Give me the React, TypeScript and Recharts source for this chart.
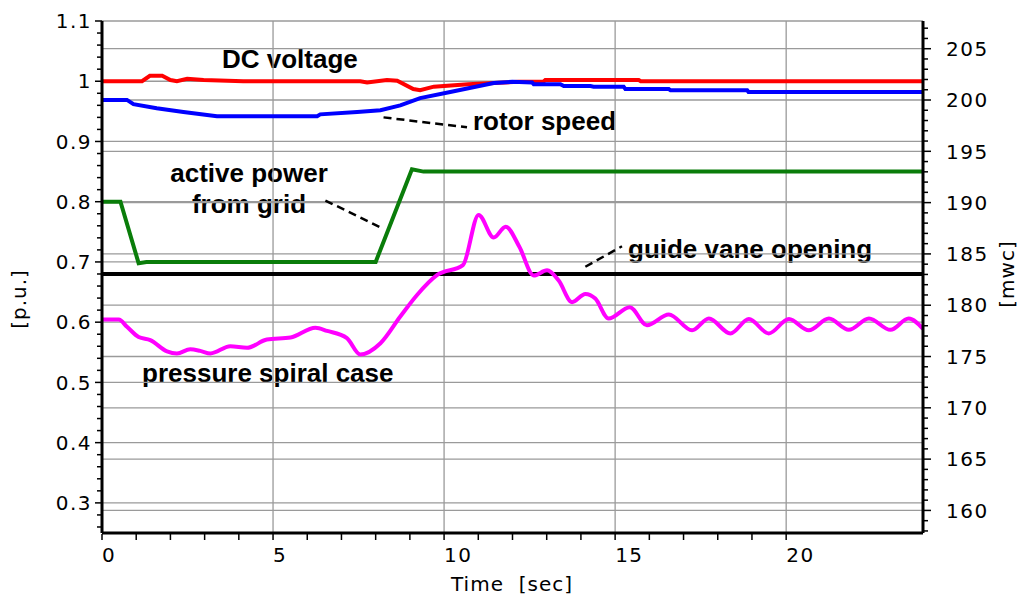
import React from 'react';
import { LineChart, Line, XAxis, YAxis, ReferenceLine } from 'recharts';

// ---- Data ----
const dcTime = [0, 1.17, 1.4, 1.76, 2.0, 2.19, 2.49, 2.97, 4.13, 7.55, 7.75, 8.33, 8.63, 9.1, 9.3, 9.7, 10.7, 12.2, 12.9, 12.96, 15.69, 15.75, 24];
const dcVoltage = [1.0, 1.0, 1.009, 1.009, 1.002, 1.0, 1.004, 1.002, 1.0, 1.0, 0.998, 1.002, 1.001, 0.987, 0.985, 0.991, 0.995, 0.999, 0.999, 1.002, 1.002, 1.0, 1.0];

const rotorTime = [0, 0.73, 0.92, 1.6, 2.38, 3.36, 6.29, 6.38, 7.46, 8.14, 8.72, 9.3, 10.18, 11.45, 12.0, 12.57, 12.62, 13.4, 13.5, 14.28, 14.37, 15.25, 15.3, 16.57, 16.62, 18.86, 18.9, 24];
const rotorSpeed = [0.969, 0.969, 0.962, 0.955, 0.949, 0.942, 0.942, 0.945, 0.949, 0.952, 0.96, 0.972, 0.982, 0.997, 0.999, 0.998, 0.995, 0.995, 0.992, 0.992, 0.991, 0.991, 0.987, 0.987, 0.985, 0.985, 0.982, 0.982];

const powerTime = [0, 0.54, 1.07, 1.3, 8.0, 9.06, 9.4, 24];
const activePower = [0.8, 0.8, 0.698, 0.7, 0.7, 0.854, 0.85, 0.85];

const vaneTime = [0, 24];
const guideVane = [0.68, 0.68];

const pressureTime = [0, 0.49, 0.73, 1.07, 1.41, 1.9, 2.19, 2.58, 2.87, 3.17, 3.75, 4.24, 4.82, 5.51, 6.24, 6.58, 7.16, 7.55, 8.14, 8.72, 9.21, 9.8, 10.55, 11.01, 11.45, 11.8, 12.2, 12.62, 13.01, 13.35, 13.74, 14.13, 14.42, 14.81, 15.43, 15.93, 16.57, 17.25, 17.74, 18.37, 18.91, 19.49, 20.08, 20.66, 21.25, 21.83, 22.42, 23.05, 23.58, 24.0];
const pressureSpiral = [178.6, 178.6, 177.9, 176.9, 176.6, 175.5, 175.3, 175.7, 175.55, 175.3, 176.0, 175.85, 176.65, 176.85, 177.8, 177.5, 176.8, 175.2, 176.3, 178.9, 181.0, 182.95, 183.9, 188.8, 186.6, 187.65, 185.7, 182.9, 183.4, 182.4, 180.3, 181.1, 180.65, 178.7, 179.8, 178.05, 179.1, 177.55, 178.7, 177.25, 178.65, 177.25, 178.65, 177.55, 178.7, 177.6, 178.7, 177.6, 178.7, 177.7];

// ---- Ticks ----
const xTicks = [0, 1, 2, 3, 4, 5, 6, 7, 8, 9, 10, 11, 12, 13, 14, 15, 16, 17, 18, 19, 20];
const xMajor = [0, 5, 10, 15, 20];
const xGrid = [5, 10, 15, 20];

const leftTicks = [0.26, 0.28, 0.3, 0.32, 0.34, 0.36, 0.38, 0.4, 0.42, 0.44, 0.46, 0.48, 0.5, 0.52, 0.54, 0.56, 0.58, 0.6, 0.62, 0.64, 0.66, 0.68, 0.7, 0.72, 0.74, 0.76, 0.78, 0.8, 0.82, 0.84, 0.86, 0.88, 0.9, 0.92, 0.94, 0.96, 0.98, 1, 1.02, 1.04, 1.06, 1.08, 1.1];
const leftMajor = [0.3, 0.4, 0.5, 0.6, 0.7, 0.8, 0.9, 1, 1.1];

const rightTicks = [158, 159, 160, 161, 162, 163, 164, 165, 166, 167, 168, 169, 170, 171, 172, 173, 174, 175, 176, 177, 178, 179, 180, 181, 182, 183, 184, 185, 186, 187, 188, 189, 190, 191, 192, 193, 194, 195, 196, 197, 198, 199, 200, 201, 202, 203, 204, 205, 206, 207];
const rightMajor = [160, 165, 170, 175, 180, 185, 190, 195, 200, 205];

const zip = (ts: number[], vs: number[]) => ts.map((t, i) => ({ t, v: vs[i] }));
const isIn = (arr: number[], v: number) => arr.some((m) => Math.abs(m - v) < 1e-6);

const TICK_FONT = '"DejaVu Sans", sans-serif';
const BOLD_FONT = '"Liberation Sans", Arial, sans-serif';

const LeftTick = (props: any) => {
  const { x, y, payload } = props;
  const major = isIn(leftMajor, payload.value);
  return (
    <g>
      <line x1={x - (major ? 7 : 5)} x2={x} y1={y} y2={y} stroke="#000" strokeWidth={1.5} />
      {major && (
        <text x={x - 10} y={y} dy="0.36em" textAnchor="end" fontFamily={TICK_FONT} fontSize={20} letterSpacing={1.5} fill="#000">
          {String(payload.value)}
        </text>
      )}
    </g>
  );
};

const RightTick = (props: any) => {
  const { x, y, payload } = props;
  const major = isIn(rightMajor, payload.value);
  return (
    <g>
      <line x1={x} x2={x + (major ? 8 : 5)} y1={y} y2={y} stroke="#000" strokeWidth={1.5} />
      {major && (
        <text x={x + 23} y={y} dy="0.36em" textAnchor="start" fontFamily={TICK_FONT} fontSize={20} letterSpacing={1.5} fill="#000">
          {String(payload.value)}
        </text>
      )}
    </g>
  );
};

const BottomTick = (props: any) => {
  const { x, y, payload } = props;
  const major = isIn(xMajor, payload.value);
  return (
    <g>
      <line x1={x} x2={x} y1={y + 1} y2={y + 7} stroke="#000" strokeWidth={1.5} />
      {major && (
        <text x={x} y={y + 29} textAnchor="start" fontFamily={TICK_FONT} fontSize={20} letterSpacing={1.5} fill="#000">
          {String(payload.value)}
        </text>
      )}
    </g>
  );
};

const GRID = '#9a9a9a';

export default function App() {
  const boldText = { fontFamily: BOLD_FONT, fontWeight: 700, fontSize: 26, fill: '#000' } as const;
  return (
    <div style={{ position: 'absolute', left: 0, top: 0, width: 1024, height: 595, background: '#fff' }}>
      <LineChart width={1024} height={595} margin={{ top: 21, right: 0, bottom: 0, left: 0 }}>
        <XAxis
          type="number"
          dataKey="t"
          domain={[0, 24]}
          ticks={xTicks}
          interval={0}
          height={62}
          tickSize={0}
          tickMargin={0}
          tickLine={false}
          tick={<BottomTick />}
          axisLine={{ stroke: '#000', strokeWidth: 3 }}
          allowDataOverflow
        />
        <YAxis
          yAxisId="left"
          orientation="left"
          type="number"
          width={102}
          domain={[0.25, 1.1]}
          ticks={leftTicks}
          interval={0}
          tickSize={0}
          tickMargin={0}
          tickLine={false}
          tick={<LeftTick />}
          axisLine={{ stroke: '#000', strokeWidth: 3 }}
          allowDataOverflow
        />
        <YAxis
          yAxisId="right"
          orientation="right"
          type="number"
          width={101}
          domain={[157.8, 207.7]}
          ticks={rightTicks}
          interval={0}
          tickSize={0}
          tickMargin={0}
          tickLine={false}
          tick={<RightTick />}
          axisLine={{ stroke: '#000', strokeWidth: 3 }}
          allowDataOverflow
        />

        {leftMajor.map((v) => (
          <ReferenceLine key={'gl' + v} yAxisId="left" y={v} stroke={GRID} strokeWidth={1.3} />
        ))}
        {rightMajor.map((v) => (
          <ReferenceLine key={'gr' + v} yAxisId="right" y={v} stroke={GRID} strokeWidth={1.3} />
        ))}
        {xGrid.map((v) => (
          <ReferenceLine key={'gx' + v} yAxisId="left" x={v} stroke={GRID} strokeWidth={1.3} />
        ))}

        <Line yAxisId="left" data={zip(vaneTime, guideVane)} dataKey="v" type="linear" stroke="#000" strokeWidth={4} dot={false} activeDot={false} isAnimationActive={false} />
        <Line yAxisId="left" data={zip(powerTime, activePower)} dataKey="v" type="linear" stroke="#0a7d0a" strokeWidth={4} dot={false} activeDot={false} isAnimationActive={false} />
        <Line yAxisId="right" data={zip(pressureTime, pressureSpiral)} dataKey="v" type="monotone" stroke="#ff00ff" strokeWidth={4} dot={false} activeDot={false} isAnimationActive={false} />
        <Line yAxisId="left" data={zip(dcTime, dcVoltage)} dataKey="v" type="linear" stroke="#ff0000" strokeWidth={4} dot={false} activeDot={false} isAnimationActive={false} />
        <Line yAxisId="left" data={zip(rotorTime, rotorSpeed)} dataKey="v" type="linear" stroke="#0000ff" strokeWidth={4} dot={false} activeDot={false} isAnimationActive={false} />

        <ReferenceLine yAxisId="left" segment={[{ x: 8.23, y: 0.94 }, { x: 10.67, y: 0.9235 }]} stroke="#000" strokeWidth={2.5} strokeDasharray="8 5" />
        <ReferenceLine yAxisId="left" segment={[{ x: 6.53, y: 0.802 }, { x: 8.23, y: 0.755 }]} stroke="#000" strokeWidth={2.5} strokeDasharray="8 5" />
        <ReferenceLine yAxisId="left" segment={[{ x: 14.13, y: 0.692 }, { x: 15.2, y: 0.726 }]} stroke="#000" strokeWidth={2.5} strokeDasharray="8 5" />

        <text x={222} y={68} style={boldText}>DC voltage</text>
        <text x={473} y={130} style={boldText}>rotor speed</text>
        <text x={249} y={182} textAnchor="middle" style={boldText}>active power</text>
        <text x={249} y={213} textAnchor="middle" style={boldText}>from grid</text>
        <text x={628} y={258} style={boldText}>guide vane opening</text>
        <text x={142} y={382} style={boldText}>pressure spiral case</text>

        <text x={19} y={299} transform="rotate(-90 19 299)" textAnchor="middle" dy="0.36em" fontFamily={TICK_FONT} fontSize={20} letterSpacing={1} fill="#000">[p.u.]</text>
        <text x={1007} y={274} transform="rotate(-90 1007 274)" textAnchor="middle" dy="0.36em" fontFamily={TICK_FONT} fontSize={20} letterSpacing={1} fill="#000">[mwc]</text>
        <text x={512} y={591} textAnchor="middle" fontFamily={TICK_FONT} fontSize={20} letterSpacing={1} fill="#000" style={{ whiteSpace: 'pre' }}>{'Time  [sec]'}</text>
      </LineChart>
    </div>
  );
}
